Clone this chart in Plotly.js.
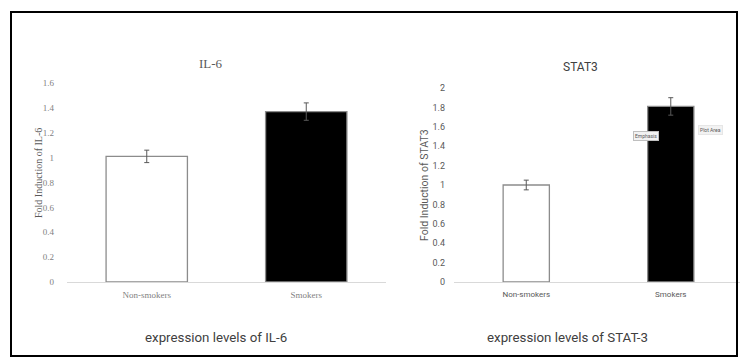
<!DOCTYPE html>
<html>
<head>
<meta charset="utf-8">
<script src="https://cdn.plot.ly/plotly-3.0.1.min.js"></script>
<style>html,body{margin:0;padding:0;background:#fff;}#chart{width:740px;height:358px;}</style>
</head>
<body>
<div id="chart"></div>
<script>
// Data
const categories = ["Non-smokers", "Smokers"];
const il6Values = [1.01, 1.37];
const il6Errors = [0.05, 0.07];
const stat3Values = [1.0, 1.81];
const stat3Errors = [0.05, 0.09];
const il6TickVals = [0, 0.2, 0.4, 0.6, 0.8, 1, 1.2, 1.4, 1.6];
const stat3TickVals = [0, 0.2, 0.4, 0.6, 0.8, 1, 1.2, 1.4, 1.6, 1.8, 2];

const W = 740, H = 358;
const px = v => v / W;
const py = v => (H - v) / H;

const serif = "Liberation Serif, Times New Roman, serif";
const sans = "Open Sans, Roboto, sans-serif";
const sans2 = "Roboto, sans-serif";

const traces = [
  {
    type: "bar", x: categories, y: il6Values, xaxis: "x", yaxis: "y",
    width: 0.51,
    marker: { color: ["#ffffff", "#000000"], line: { color: "#8c8c8c", width: 1.3 } },
    error_y: { type: "data", array: il6Errors, visible: true, color: "#595959", thickness: 1, width: 2.5 },
    hoverinfo: "none", showlegend: false
  },
  {
    type: "bar", x: categories, y: stat3Values, xaxis: "x2", yaxis: "y2",
    width: 0.32,
    marker: { color: ["#ffffff", "#000000"], line: { color: "#8c8c8c", width: 1.3 } },
    error_y: { type: "data", array: stat3Errors, visible: true, color: "#595959", thickness: 1, width: 2.5 },
    hoverinfo: "none", showlegend: false
  }
];

const layout = {
  width: W, height: H,
  margin: { l: 0, r: 0, t: 0, b: 0 },
  paper_bgcolor: "#ffffff", plot_bgcolor: "rgba(0,0,0,0)",
  showlegend: false,
  xaxis: {
    domain: [px(67), px(386)], anchor: "y", type: "category", range: [-0.5, 1.5],
    showline: true, linecolor: "#d9d9d9", linewidth: 1, showgrid: false, zeroline: false,
    ticks: "", tickfont: { family: serif, size: 9, color: "#7f7f7f" }, ticklabelstandoff: 4,
    fixedrange: true
  },
  yaxis: {
    domain: [py(282), py(83)], anchor: "x", range: [0, 1.6],
    tickvals: il6TickVals, showline: false, showgrid: false, zeroline: false,
    ticks: "", tickfont: { family: serif, size: 9, color: "#7f7f7f" }, ticklabelstandoff: 12,
    fixedrange: true
  },
  xaxis2: {
    domain: [px(454), 1], anchor: "y2", type: "category", range: [-0.5, 1.479],
    showline: true, linecolor: "#d9d9d9", linewidth: 1, showgrid: false, zeroline: false,
    ticks: "", tickfont: { family: sans2, size: 8, color: "#595959" }, ticklabelstandoff: 4,
    fixedrange: true
  },
  yaxis2: {
    domain: [py(282), py(88)], anchor: "x2", range: [0, 2],
    tickvals: stat3TickVals, showline: false, showgrid: false, zeroline: false,
    ticks: "", tickfont: { family: sans2, size: 9, color: "#595959" }, ticklabelstandoff: 8,
    fixedrange: true
  },
  shapes: [
    { type: "rect", xref: "paper", yref: "paper", x0: px(11), x1: px(737), y0: py(356), y1: py(12),
      line: { color: "#000000", width: 2 }, fillcolor: "rgba(0,0,0,0)" }
  ],
  annotations: [
    { text: "IL-6", xref: "paper", yref: "paper", x: px(211), y: py(63), showarrow: false,
      font: { family: serif, size: 13, color: "#595959" }, xanchor: "center", yanchor: "middle" },
    { text: "STAT3", xref: "paper", yref: "paper", x: px(580), y: py(67), showarrow: false,
      font: { family: sans2, size: 12, color: "#404040" }, xanchor: "center", yanchor: "middle" },
    { text: "Fold Induction of IL-6", xref: "paper", yref: "paper", x: px(38), y: py(173), showarrow: false,
      textangle: -90, font: { family: serif, size: 10, color: "#595959" }, xanchor: "center", yanchor: "middle" },
    { text: "Fold Induction of STAT3", xref: "paper", yref: "paper", x: px(425), y: py(185), showarrow: false,
      textangle: -90, font: { family: sans2, size: 10.5, color: "#595959" }, xanchor: "center", yanchor: "middle" },
    { text: "*", xref: "x2", yref: "y2", x: categories[1], y: stat3Values[1] + stat3Errors[1] + 0.13, showarrow: false,
      font: { family: sans2, size: 14, color: "#000000" }, xanchor: "center", yanchor: "middle" },
    { text: "Emphasis", xref: "paper", yref: "paper", x: px(646), y: py(136), showarrow: false,
      font: { family: sans2, size: 5, color: "#595959" }, bgcolor: "#f2f2f2", bordercolor: "#bfbfbf", borderwidth: 1, borderpad: 1,
      xanchor: "center", yanchor: "middle" },
    { text: "Plot Area", xref: "paper", yref: "paper", x: px(710), y: py(130), showarrow: false,
      font: { family: sans2, size: 5, color: "#595959" }, bgcolor: "#f2f2f2", bordercolor: "#e6e6e6", borderwidth: 1, borderpad: 1,
      xanchor: "center", yanchor: "middle" },
    { text: "expression levels of IL-6", xref: "paper", yref: "paper", x: px(216), y: py(337), showarrow: false,
      font: { family: sans2, size: 13.3, color: "#404040" }, xanchor: "center", yanchor: "middle" },
    { text: "expression levels of STAT-3", xref: "paper", yref: "paper", x: px(567), y: py(337), showarrow: false,
      font: { family: sans2, size: 13.3, color: "#404040" }, xanchor: "center", yanchor: "middle" }
  ]
};

Plotly.newPlot("chart", traces, layout, { staticPlot: true, displayModeBar: false });
</script>
</body>
</html>
